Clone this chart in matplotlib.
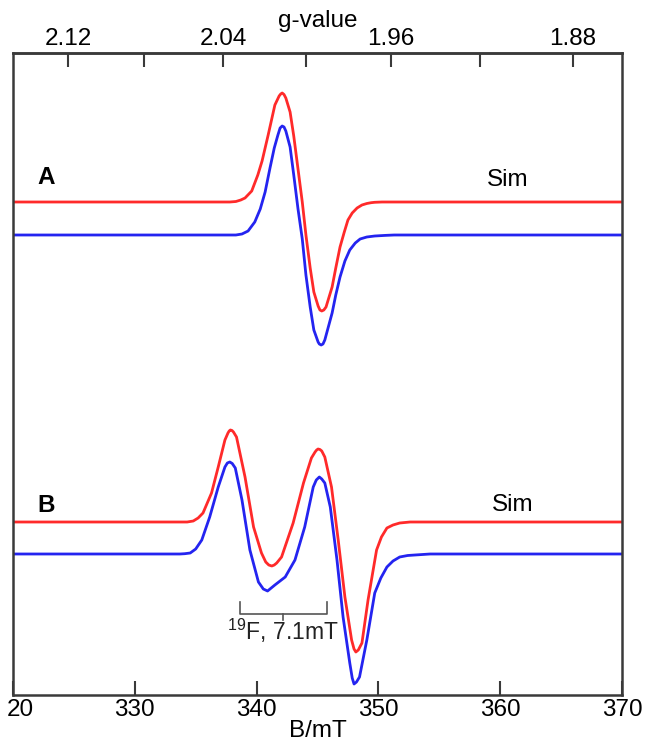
#!/usr/bin/env python3
# coding=utf-8
import numpy as np
import matplotlib
matplotlib.use('Agg')
import matplotlib.pyplot as plt
from matplotlib.transforms import ScaledTranslation

plt.rcParams['font.family'] = ['Liberation Sans', 'DejaVu Sans']
plt.rcParams['mathtext.fontset'] = 'custom'
plt.rcParams['mathtext.rm'] = 'Liberation Sans'

# field axis (mT) and g-value axis
b_ticks = [320, 330, 340, 350, 360, 370]
b_labels = ['20', '330', '340', '350', '360', '370']  # first label is cut in the original
g_ticks = [2.12, 2.08, 2.04, 2.00, 1.96, 1.92, 1.88]
g_labels = ['2.12', '', '2.04', '', '1.96', '', '1.88']
freq_ghz = 9.63

# spectrum A, simulation (red)
a_sim_b = [320.0, 337.8, 338.3, 338.7, 339.05, 339.6, 340.1, 340.45, 340.95,
           341.5, 341.85, 341.98, 342.1, 342.25, 342.4, 342.75, 343.05, 343.4,
           343.75, 344.05, 344.4, 344.7, 345.05, 345.2, 345.35, 345.52, 345.7,
           346.2, 346.5, 346.85, 347.2, 347.5, 347.85, 348.25, 348.65, 349.05,
           349.4, 349.7, 350.3, 370.0]
a_sim_i = [0, 0, 0.5, 2, 4, 11, 27, 41, 67, 97, 106, 108, 109, 107.5, 104, 90,
           66, 33, 0, -33, -66, -90, -104, -108, -109, -108, -105, -85, -66,
           -45, -30, -18, -11, -6, -3, -1.5, -0.7, -0.3, 0, 0]

# spectrum A, experiment (blue)
a_exp_b = [320.0, 338.3, 338.8, 339.3, 339.85, 340.3, 340.7, 341.1, 341.45,
           341.75, 341.93, 342.1, 342.25, 342.4, 342.75, 343.05, 343.4, 343.75,
           344.05, 344.4, 344.7, 345.05, 345.15, 345.3, 345.45, 345.6, 346.2,
           346.5, 346.85, 347.25, 347.65, 348.1, 348.5, 349.05, 349.7, 350.55,
           351.3, 370.0]
a_exp_i = [0, 0, 1, 4, 13, 26, 43, 67, 87, 100, 107, 109, 108, 104, 88, 60,
           26, -4, -40, -72, -95, -107, -109, -110, -109, -105, -78, -60, -42,
           -26, -15, -8, -4, -2, -1, -0.4, 0, 0]

# spectrum B, simulation (red)
b_sim_b = [320.0, 334.3, 334.8, 335.2, 335.6, 336.3, 336.85, 337.4, 337.65,
           337.75, 337.85, 337.98, 338.1, 338.35, 339.05, 339.75, 340.4, 340.75,
           341.0, 341.25, 341.45, 341.65, 342.05, 343.0, 343.85, 344.5, 344.8,
           344.93, 345.05, 345.2, 345.35, 345.6, 346.15, 346.7, 347.25, 347.8,
           348.0, 348.15, 348.35, 348.65, 349.15, 349.85, 350.25, 350.7, 351.2,
           351.75, 352.6, 370.0]
b_sim_i = [0, 0, 1, 4, 9, 29, 55, 82, 89, 91, 92, 91.5, 90, 85, 45, -5, -31,
           -40, -43, -44, -43, -41, -35, -1, 39, 64, 70, 72, 73, 72.5, 71, 65,
           35, -18, -75, -118, -127, -130, -128, -121, -78, -28, -15, -6, -3,
           -1, 0, 0]

# spectrum B, experiment (blue)
b_exp_b = [320.0, 333.7, 334.1, 334.55, 335.0, 335.5, 336.15, 336.85, 337.4,
           337.6, 337.8, 338.0, 338.25, 338.8, 339.45, 340.15, 340.55, 340.9,
           341.5, 342.35, 343.15, 343.95, 344.65, 344.9, 345.15, 345.35, 345.6,
           346.05, 346.6, 347.1, 347.65, 347.85, 348.0, 348.2, 348.45, 349.05,
           349.7, 350.2, 350.7, 351.2, 351.75, 352.4, 353.0, 354.25, 370.0]
b_exp_i = [0, 0, 0.3, 1, 5, 14, 37, 67, 87, 91, 92, 90.5, 86, 54, 4, -28, -35,
           -37, -31, -23, -6, 27, 67, 74, 77, 75, 71, 47, -6, -63, -109, -124,
           -130, -128, -123, -86, -39, -24, -13, -7, -3, -1.5, -1, 0, 0]

# vertical offsets of the traces
offsets = {'a_sim': 493, 'a_exp': 460, 'b_sim': 173, 'b_exp': 141}

# 19F splitting marker
split_start = 338.64
split_mT = 7.1


def b2g(b):
    b = np.asarray(b, dtype=float)
    safe = np.where(b != 0, b, 1)
    return np.where(b != 0, 71.4477 * freq_ghz / safe, np.inf)


red = '#ff2a2a'
blue = '#2424f0'
spine_c = '#3a3a3a'
fs = 17.5

fig = plt.figure(figsize=(6.51, 7.5), dpi=100)
ax = fig.add_axes([13 / 651, 55 / 750, 609 / 651, 642 / 750])

kw = dict(lw=2, solid_joinstyle='round', solid_capstyle='round')
ax.plot(a_exp_b, np.array(a_exp_i) + offsets['a_exp'], color=blue, **kw)
ax.plot(a_sim_b, np.array(a_sim_i) + offsets['a_sim'], color=red, **kw)
ax.plot(b_exp_b, np.array(b_exp_i) + offsets['b_exp'], color=blue, **kw)
ax.plot(b_sim_b, np.array(b_sim_i) + offsets['b_sim'], color=red, **kw)

ax.set_xlim(320, 370)
ax.set_ylim(0, 642)
ax.set_yticks([])
ax.set_xticks(b_ticks, labels=b_labels)
ax.tick_params(axis='x', direction='in', length=10, width=1.5,
               color=spine_c, labelsize=fs, pad=3)
first = ax.get_xticklabels()[0]
first.set_horizontalalignment('left')
first.set_transform(first.get_transform() +
                    ScaledTranslation(-6 / 100, 0, fig.dpi_scale_trans))
for s in ax.spines.values():
    s.set_color(spine_c)
    s.set_linewidth(1.8)
ax.set_xlabel('B/mT', fontsize=fs, labelpad=-1)

sec = ax.secondary_xaxis('top', functions=(b2g, b2g))
sec.set_xticks(g_ticks, labels=g_labels)
sec.tick_params(direction='in', length=10, width=1.5, color=spine_c,
                labelsize=fs, pad=2)
sec.spines['top'].set_color(spine_c)
sec.spines['top'].set_linewidth(1.8)
sec.set_xlabel('g-value', fontsize=fs, labelpad=1)

ax.text(322.7, 517, 'A', fontsize=fs, fontweight='bold', ha='center', va='center')
ax.text(322.7, 190, 'B', fontsize=fs, fontweight='bold', ha='center', va='center')
ax.text(360.6, 515, 'Sim', fontsize=fs, ha='center', va='center')
ax.text(361.0, 190, 'Sim', fontsize=fs, ha='center', va='center')

# splitting bar
x0, x1 = split_start, split_start + split_mT
xm = (x0 + x1) / 2
bar_c = '#555555'
ax.plot([x0, x0, x1, x1], [93, 81, 81, 93], color=bar_c, lw=1.2)
ax.plot([xm, xm], [81, 75], color=bar_c, lw=1.2)
ax.text(xm, 78, r'$^{19}$F, 7.1mT', fontsize=fs - 1, ha='center', va='top',
        color='#222222')

fig.savefig('out.png', dpi=100)
